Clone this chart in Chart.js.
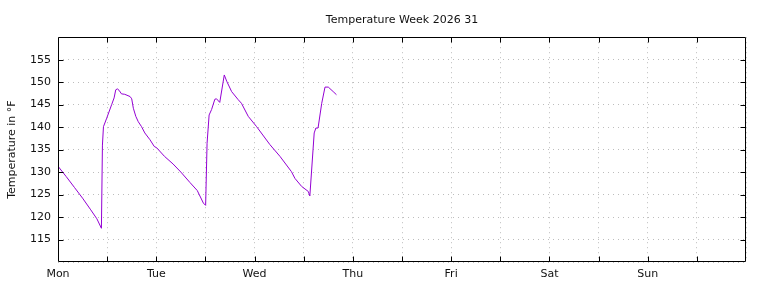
<!DOCTYPE html>
<html>
<head>
<meta charset="utf-8">
<script src="https://cdn.jsdelivr.net/npm/chart.js@4/dist/chart.umd.min.js"></script>
<style>
html,body{margin:0;padding:0;background:#fff;}
#wrap{width:768px;height:288px;}
</style>
</head>
<body>
<div id="wrap"><canvas id="c" width="768" height="288"></canvas></div>
<script>
// Data: hours since Monday 00:00, temperature in °F
const hours = [0.0,2.0,4.0,6.0,8.0,9.5,10.6,10.85,11.1,11.9,13.1,13.7,14.1,14.5,14.9,15.5,16.3,17.6,18.0,18.4,19.0,19.6,20.4,21.2,22.45,23.5,24.1,26.0,28.1,30.0,32.2,34.0,35.5,36.05,36.4,36.9,37.5,38.3,38.7,39.5,40.6,41.2,42.4,44.0,44.8,46.45,48.5,51.75,54.2,57.0,57.85,59.5,61.1,61.5,62.56,62.97,63.5,64.4,65.2,66.0,67.2,68.0];
const temps = [131.3,129.0,126.6,124.2,121.6,119.6,117.5,136.0,140.1,142.0,145.0,146.5,148.3,148.5,148.2,147.4,147.3,146.8,146.3,144.2,142.4,141.2,140.1,138.7,137.2,135.7,135.4,133.5,131.8,130.0,127.7,125.9,123.1,122.6,136.4,142.7,143.9,146.2,146.3,145.5,151.6,150.2,147.9,146.1,145.3,142.4,140.1,136.1,133.5,130.1,128.6,126.8,125.7,124.7,138.7,139.8,139.8,145.3,148.9,148.9,147.9,147.2];
const dayLabels = ['Mon','Tue','Wed','Thu','Fri','Sat','Sun'];
const yTickValues = [115,120,125,130,135,140,145,150,155];
const chartTitle = 'Temperature Week 2026 31';
const yTitle = 'Temperature in °F';

const points = hours.map((h,i)=>({x:h,y:temps[i]}));
const FONT = 'DejaVu Sans, Liberation Sans, sans-serif';
const TXT = '#111';
const GRID = '#bdbdbd';

const frame = {
  id:'frame',
  afterDatasetsDraw(chart){
    const {ctx, chartArea:a, scales:{x,y}} = chart;
    ctx.save();
    ctx.strokeStyle='#000';
    ctx.lineWidth=1;
    const L=Math.round(a.left)+0.5, R=Math.round(a.right)-0.5, T=Math.round(a.top)+0.5, B=Math.round(a.bottom)-0.5;
    ctx.beginPath();
    ctx.rect(L,T,R-L,B-T);
    ctx.stroke();
    const tl=5;
    ctx.beginPath();
    x.ticks.forEach(t=>{
      const px=Math.round(x.getPixelForValue(t.value))+0.5;
      if(px<=L+1||px>=R-1) return;
      ctx.moveTo(px,B); ctx.lineTo(px,B-tl);
      ctx.moveTo(px,T); ctx.lineTo(px,T+tl);
    });
    yTickValues.forEach(v=>{
      const py=Math.round(y.getPixelForValue(v))+0.5;
      ctx.moveTo(L,py); ctx.lineTo(L+tl,py);
      ctx.moveTo(R,py); ctx.lineTo(R-tl,py);
    });
    ctx.stroke();
    ctx.restore();
  }
};

new Chart(document.getElementById('c'),{
  type:'line',
  data:{datasets:[{data:points,borderColor:'#9400d3',borderWidth:1,pointRadius:0,tension:0,fill:false}]},
  options:{
    responsive:false,
    animation:false,
    devicePixelRatio:1,
    layout:{padding:{left:0,right:22,top:0,bottom:0}},
    plugins:{
      legend:{display:false},
      tooltip:{enabled:false},
      title:{display:true,text:chartTitle,fullSize:false,color:TXT,font:{family:FONT,size:11,weight:'normal'},padding:{top:14,bottom:10}}
    },
    scales:{
      x:{
        type:'linear',min:0,max:168,
        afterFit(s){s.height=26;},
        border:{display:false,dash:[1,4]},
        grid:{drawTicks:false,color:GRID,lineWidth:1},
        ticks:{stepSize:12,autoSkip:false,maxRotation:0,padding:6,color:TXT,font:{family:FONT,size:11},
          callback:(v)=>{ if(v%24!==0) return ''; const d=v/24; return d<dayLabels.length?dayLabels[d]:''; }}
      },
      y:{
        min:110,max:160,
        afterFit(s){s.width=58;},
        border:{display:false,dash:[1,4]},
        grid:{drawTicks:false,color:GRID,lineWidth:1},
        afterBuildTicks(s){s.ticks=[110].concat(yTickValues,[160]).map(v=>({value:v}));},
        ticks:{padding:7,color:TXT,font:{family:FONT,size:11},callback:(v)=>yTickValues.includes(v)?String(v):''},
        title:{display:true,text:yTitle,color:TXT,font:{family:FONT,size:11},padding:{top:6,bottom:0}}
      }
    }
  },
  plugins:[frame]
});
</script>
</body>
</html>
